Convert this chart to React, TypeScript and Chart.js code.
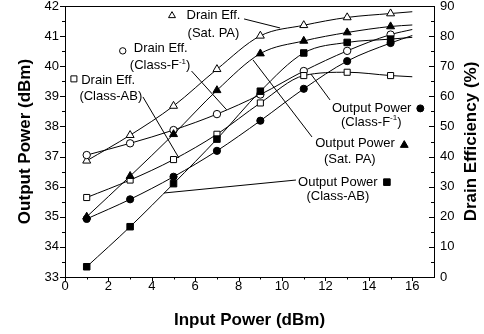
import React, { useEffect, useRef } from 'react';
import { Chart, registerables } from 'chart.js';

Chart.register(...registerables);

// ---------- data ----------
const inputPower = [1, 3, 5, 7, 9, 11, 13, 15, 16]; // 16 = end of drawn curve (no marker)
const markedCount = 8;

const poutClassAB = [33.34, 34.67, 36.1, 37.58, 39.17, 40.44, 40.79, 40.9, 40.96];
const poutClassF = [34.93, 35.58, 36.33, 37.19, 38.19, 39.25, 40.17, 40.77, 41.02];
const poutSat = [35.0, 36.35, 37.74, 39.2, 40.42, 40.84, 41.12, 41.32, 41.37];

const deClassAB = [26.4, 32.2, 39.0, 47.4, 57.8, 66.9, 68.0, 66.9, 66.5];
const deClassF = [40.5, 44.4, 48.8, 54.1, 60.6, 68.4, 75.1, 80.5, 82.2];
const deSat = [38.6, 47.1, 56.8, 69.0, 80.1, 83.6, 86.2, 87.5, 88.1];

const xTicks = [0, 2, 4, 6, 8, 10, 12, 14, 16];
const yLeftTicks = [33, 34, 35, 36, 37, 38, 39, 40, 41, 42];
const yRightTicks = [0, 10, 20, 30, 40, 50, 60, 70, 80, 90];

const xTitle = 'Input Power (dBm)';
const yLeftTitle = 'Output Power (dBm)';
const yRightTitle = 'Drain Efficiency (%)';

const FONT = "'Liberation Sans', Arial, sans-serif";

type Seg = { t: string; sup?: boolean };
type Annot = {
  lines: { x: number; y: number; segs: Seg[] }[];
  symbol: { x: number; y: number; shape: 'triangle' | 'circle' | 'rect'; filled: boolean; r: number };
  leader: [number, number][];
};

// annotation positions in data units (x: input power, y: output power axis)
const annotations: Annot[] = [
  {
    lines: [
      { x: 6.84, y: 41.7, segs: [{ t: 'Drain Eff.' }] },
      { x: 6.84, y: 41.1, segs: [{ t: '(Sat. PA)' }] },
    ],
    symbol: { x: 4.93, y: 41.68, shape: 'triangle', filled: false, r: 4 },
    leader: [[8.25, 41.57], [9.91, 41.27]],
  },
  {
    lines: [
      { x: 4.41, y: 40.59, segs: [{ t: 'Drain Eff.' }] },
      { x: 4.38, y: 40.01, segs: [{ t: '(Class-F' }, { t: '-1', sup: true }, { t: ')' }] },
    ],
    symbol: { x: 2.66, y: 40.51, shape: 'circle', filled: false, r: 3.2 },
    leader: [[5.83, 39.84], [7.45, 38.55]],
  },
  {
    lines: [
      { x: 1.99, y: 39.54, segs: [{ t: 'Drain Eff.' }] },
      { x: 2.11, y: 38.99, segs: [{ t: '(Class-AB)' }] },
    ],
    symbol: { x: 0.41, y: 39.58, shape: 'rect', filled: false, r: 3 },
    leader: [[3.59, 38.98], [5.25, 36.95]],
  },
  {
    lines: [
      { x: 14.13, y: 38.61, segs: [{ t: 'Output Power' }] },
      { x: 14.11, y: 38.15, segs: [{ t: '(Class-F' }, { t: '-1', sup: true }, { t: ')' }] },
    ],
    symbol: { x: 16.37, y: 38.6, shape: 'circle', filled: true, r: 3.5 },
    leader: [[12.21, 38.88], [11.33, 39.74]],
  },
  {
    lines: [
      { x: 13.36, y: 37.42, segs: [{ t: 'Output Power' }] },
      { x: 13.12, y: 36.92, segs: [{ t: '(Sat. PA)' }] },
    ],
    symbol: { x: 15.63, y: 37.38, shape: 'triangle', filled: true, r: 4.5 },
    leader: [[11.38, 37.65], [8.66, 40.21]],
  },
  {
    lines: [
      { x: 12.57, y: 36.15, segs: [{ t: 'Output Power' }] },
      { x: 12.57, y: 35.69, segs: [{ t: '(Class-AB)' }] },
    ],
    symbol: { x: 14.83, y: 36.15, shape: 'rect', filled: true, r: 3.3 },
    leader: [[10.64, 36.22], [4.56, 35.79]],
  },
];

function series(label: string, ys: number[], axis: string, style: string, radius: number, filled: boolean) {
  return {
    label,
    data: inputPower.map((x, i) => ({ x, y: ys[i] })),
    yAxisID: axis,
    borderColor: '#000',
    borderWidth: 1,
    backgroundColor: filled ? '#000' : '#fff',
    pointStyle: style,
    pointRadius: (c: any) => (c.dataIndex < markedCount ? radius : 0),
    pointBorderColor: '#000',
    pointBackgroundColor: filled ? '#000' : '#fff',
    pointBorderWidth: 1,
    cubicInterpolationMode: 'monotone',
    fill: false,
    clip: false,
  };
}

function drawShape(ctx: CanvasRenderingContext2D, shape: string, x: number, y: number, r: number, filled: boolean) {
  ctx.beginPath();
  if (shape === 'circle') {
    ctx.arc(x, y, r, 0, Math.PI * 2);
  } else if (shape === 'rect') {
    ctx.rect(x - r, y - r, 2 * r, 2 * r);
  } else {
    const h = Math.sin(Math.PI / 3);
    ctx.moveTo(x, y - r);
    ctx.lineTo(x + r * h, y + r / 2);
    ctx.lineTo(x - r * h, y + r / 2);
    ctx.closePath();
  }
  ctx.fillStyle = filled ? '#000' : '#fff';
  ctx.fill();
  ctx.lineWidth = 1;
  ctx.strokeStyle = '#000';
  ctx.stroke();
}

function drawRich(ctx: CanvasRenderingContext2D, segs: Seg[], cx: number, cy: number, size: number) {
  const supSize = Math.round(size * 0.62);
  const widths = segs.map((s) => {
    ctx.font = `${s.sup ? supSize : size}px ${FONT}`;
    return ctx.measureText(s.t).width;
  });
  const total = widths.reduce((a, b) => a + b, 0);
  let x = cx - total / 2;
  ctx.textAlign = 'left';
  ctx.textBaseline = 'middle';
  ctx.fillStyle = '#000';
  segs.forEach((s, i) => {
    ctx.font = `${s.sup ? supSize : size}px ${FONT}`;
    ctx.fillText(s.t, x, s.sup ? cy - size * 0.33 : cy);
    x += widths[i];
  });
}

const decorPlugin = {
  id: 'decor',
  afterDraw(chart: any) {
    const ctx: CanvasRenderingContext2D = chart.ctx;
    const { left, right, top, bottom } = chart.chartArea;
    const xs = chart.scales.x;
    const yl = chart.scales.y;
    const yr = chart.scales.y2;
    const al = (v: number) => Math.round(v) + 0.5;
    ctx.save();
    ctx.strokeStyle = '#000';
    ctx.lineWidth = 1;
    ctx.beginPath();
    // top frame
    ctx.moveTo(left, al(top));
    ctx.lineTo(right, al(top));
    // x ticks (major every 2, minor every 1)
    for (let v = xTicks[0]; v <= xTicks[xTicks.length - 1]; v += 1) {
      const p = al(xs.getPixelForValue(v));
      const len = v % 2 === 0 ? 4 : 2.5;
      ctx.moveTo(p, bottom);
      ctx.lineTo(p, bottom + len);
    }
    // left ticks (outward)
    for (let v = yLeftTicks[0]; v <= yLeftTicks[yLeftTicks.length - 1] + 1e-6; v += 0.5) {
      const p = al(yl.getPixelForValue(v));
      const len = Math.abs(v - Math.round(v)) < 1e-6 ? 5 : 3;
      ctx.moveTo(left, p);
      ctx.lineTo(left - len, p);
    }
    // right ticks (inward)
    for (let v = yRightTicks[0]; v <= yRightTicks[yRightTicks.length - 1]; v += 5) {
      const p = al(yr.getPixelForValue(v));
      const len = v % 10 === 0 ? 5 : 3;
      ctx.moveTo(right, p);
      ctx.lineTo(right - len, p);
    }
    ctx.stroke();

    // annotations
    annotations.forEach((a) => {
      ctx.beginPath();
      a.leader.forEach(([x, y], i) => {
        const px = xs.getPixelForValue(x);
        const py = yl.getPixelForValue(y);
        if (i === 0) ctx.moveTo(px, py);
        else ctx.lineTo(px, py);
      });
      ctx.lineWidth = 1;
      ctx.strokeStyle = '#000';
      ctx.stroke();
      a.lines.forEach((l) => drawRich(ctx, l.segs, xs.getPixelForValue(l.x), yl.getPixelForValue(l.y), 13));
      const s = a.symbol;
      drawShape(ctx, s.shape, xs.getPixelForValue(s.x), yl.getPixelForValue(s.y), s.r, s.filled);
    });

    // axis titles
    ctx.fillStyle = '#000';
    ctx.font = `bold 17px ${FONT}`;
    ctx.textAlign = 'center';
    ctx.textBaseline = 'alphabetic';
    ctx.fillText(xTitle, (left + right) / 2, 325);
    const midY = (top + bottom) / 2;
    ctx.save();
    ctx.translate(29.5, midY);
    ctx.rotate(-Math.PI / 2);
    ctx.fillText(yLeftTitle, 0, 0);
    ctx.restore();
    ctx.save();
    ctx.translate(476, midY);
    ctx.rotate(-Math.PI / 2);
    ctx.fillText(yRightTitle, 0, 0);
    ctx.restore();
    ctx.restore();
  },
};

function noPad(s: any) {
  s.paddingTop = 0;
  s.paddingBottom = 0;
  s.paddingLeft = 0;
  s.paddingRight = 0;
}

export default function App() {
  const ref = useRef<HTMLCanvasElement | null>(null);
  useEffect(() => {
    if (!ref.current) return;
    const tickFont = { family: FONT, size: 13 };
    const chart = new Chart(ref.current, {
      type: 'line',
      data: {
        datasets: [
          series('Output Power (Class-AB)', poutClassAB, 'y', 'rect', 4.6, true),
          series('Output Power (Class-F-1)', poutClassF, 'y', 'circle', 3.6, true),
          series('Output Power (Sat. PA)', poutSat, 'y', 'triangle', 4.6, true),
          series('Drain Eff. (Class-AB)', deClassAB, 'y2', 'rect', 4.3, false),
          series('Drain Eff. (Class-F-1)', deClassF, 'y2', 'circle', 3.7, false),
          series('Drain Eff. (Sat. PA)', deSat, 'y2', 'triangle', 4.6, false),
        ] as any,
      },
      options: {
        animation: false,
        responsive: true,
        maintainAspectRatio: false,
        devicePixelRatio: 1,
        layout: { padding: { top: 6, left: 0, right: 0, bottom: 0 } },
        plugins: { legend: { display: false }, tooltip: { enabled: false }, title: { display: false } },
        events: [],
        scales: {
          x: {
            type: 'linear',
            min: 0,
            max: 17,
            afterBuildTicks: (s: any) => {
              s.ticks = xTicks.map((v) => ({ value: v }));
            },
            ticks: { font: tickFont, color: '#000', padding: 2, maxRotation: 0, autoSkip: false },
            grid: { display: false, drawTicks: false },
            border: { display: true, color: '#000', width: 1 },
            afterFit: (s: any) => {
              s.height = 57;
              noPad(s);
            },
          },
          y: {
            type: 'linear',
            position: 'left',
            min: 33,
            max: 42,
            afterBuildTicks: (s: any) => {
              s.ticks = yLeftTicks.map((v) => ({ value: v }));
            },
            ticks: { font: tickFont, color: '#000', padding: 6 },
            grid: { display: false, drawTicks: false },
            border: { display: true, color: '#000', width: 1 },
            afterFit: (s: any) => {
              s.width = 65;
              noPad(s);
            },
          },
          y2: {
            type: 'linear',
            position: 'right',
            min: 0,
            max: 90,
            afterBuildTicks: (s: any) => {
              s.ticks = yRightTicks.map((v) => ({ value: v }));
            },
            ticks: { font: tickFont, color: '#000', padding: 6 },
            grid: { display: false, drawTicks: false },
            border: { display: true, color: '#000', width: 1 },
            afterFit: (s: any) => {
              s.width = 50;
              noPad(s);
            },
          },
        },
      } as any,
      plugins: [decorPlugin],
    });
    return () => chart.destroy();
  }, []);
  return (
    <div style={{ position: 'absolute', left: 0, top: 0, width: 484, height: 334, background: '#fff' }}>
      <canvas ref={ref} />
    </div>
  );
}
